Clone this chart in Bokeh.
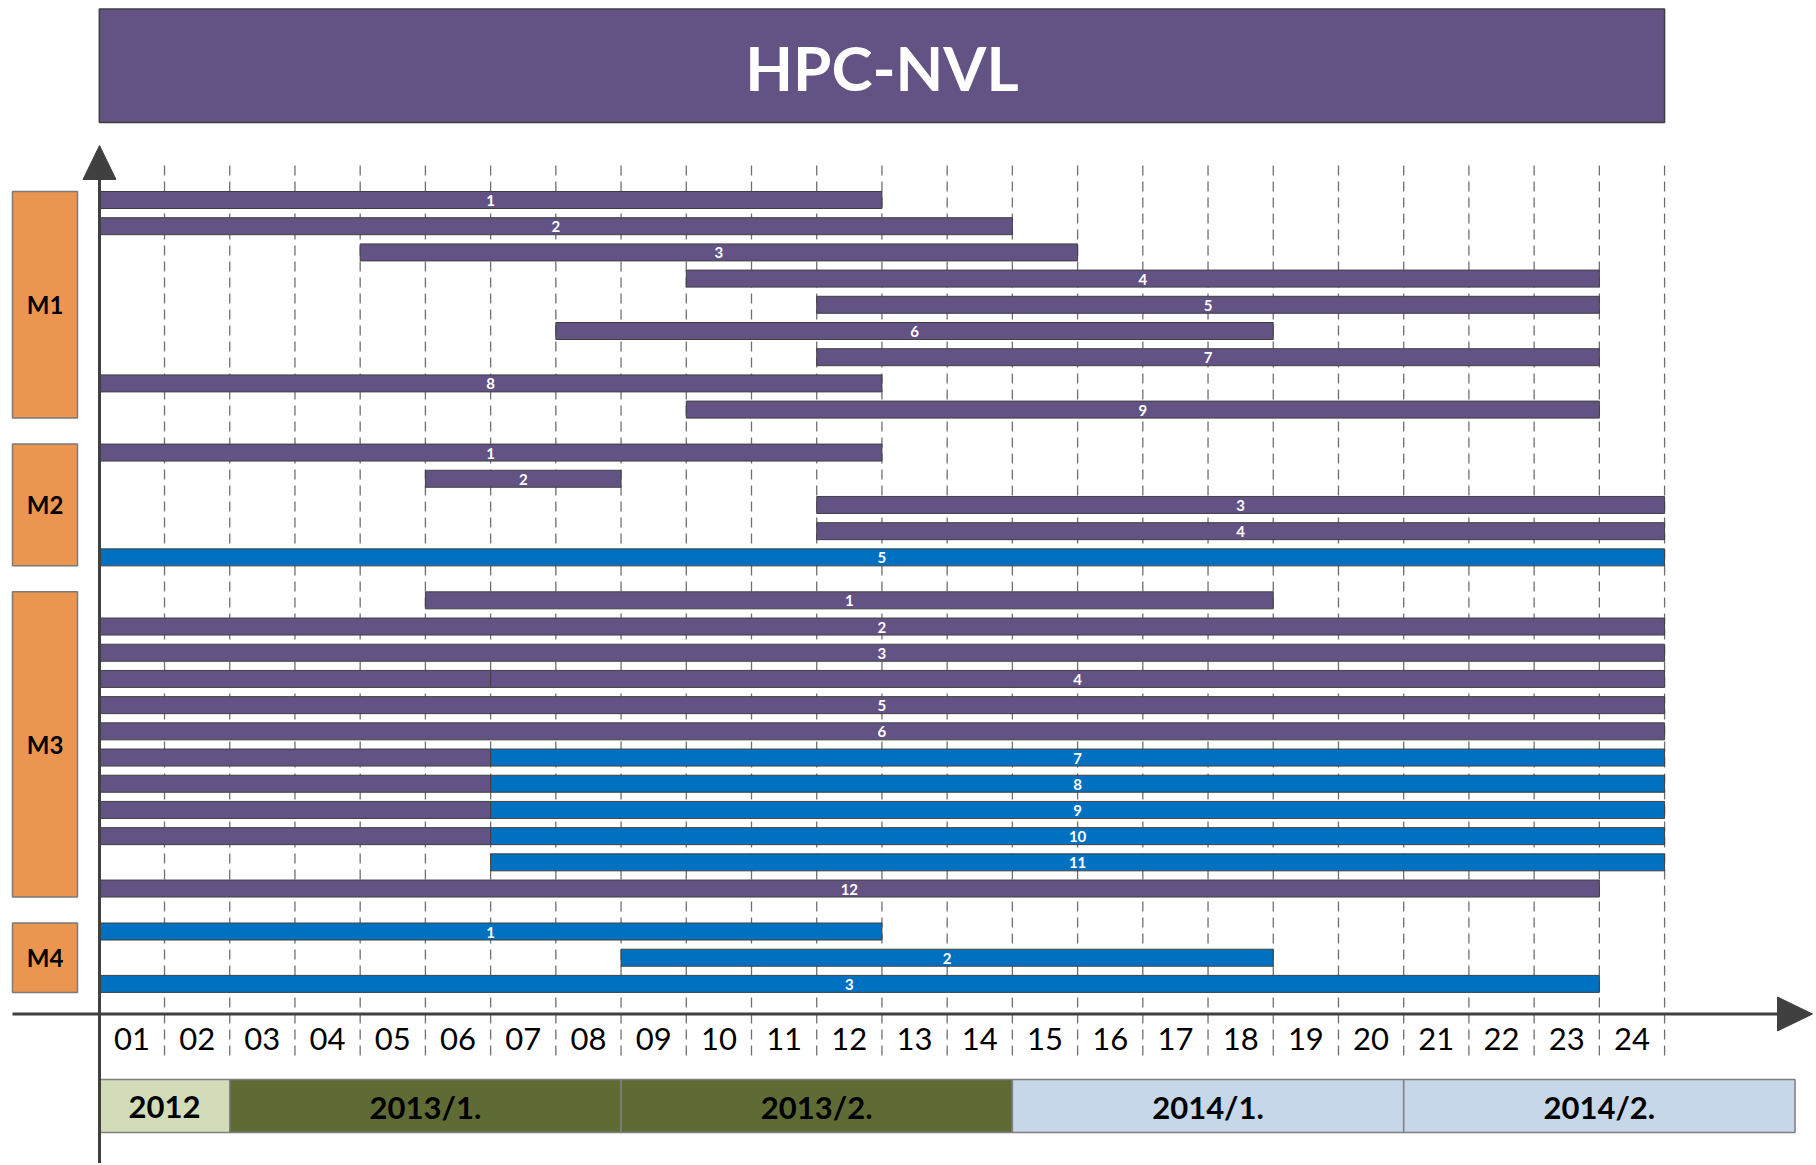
from bokeh.plotting import figure
from bokeh.models import Range1d, ColumnDataSource
from bokeh.core.properties import value
from bokeh.embed import file_html
from bokeh.resources import INLINE

# ---------------- data ----------------
TITLE = "HPC-NVL"
GROUPS = ["M1", "M2", "M3", "M4"]

# start month, month where the colour changes (None = no change), end month,
# kind of the (last) segment: "p" = purple, "b" = blue
M1_START = [0, 0, 4, 9, 11, 7, 11, 0, 9]
M1_SPLIT = [None, None, None, None, None, None, None, None, None]
M1_END = [12, 14, 15, 23, 23, 18, 23, 12, 23]
M1_KIND = ["p", "p", "p", "p", "p", "p", "p", "p", "p"]

M2_START = [0, 5, 11, 11, 0]
M2_SPLIT = [None, None, None, None, None]
M2_END = [12, 8, 24, 24, 24]
M2_KIND = ["p", "p", "p", "p", "b"]

M3_START = [5, 0, 0, 0, 0, 0, 0, 0, 0, 0, 6, 0]
M3_SPLIT = [None, None, None, 6, None, None, 6, 6, 6, 6, None, None]
M3_END = [18, 24, 24, 24, 24, 24, 24, 24, 24, 24, 24, 23]
M3_KIND = ["p", "p", "p", "p", "p", "p", "b", "b", "b", "b", "b", "p"]

M4_START = [0, 8, 0]
M4_SPLIT = [None, None, None]
M4_END = [12, 18, 23]
M4_KIND = ["b", "b", "b"]

MONTH_LABELS = ["01", "02", "03", "04", "05", "06", "07", "08", "09", "10", "11", "12",
                "13", "14", "15", "16", "17", "18", "19", "20", "21", "22", "23", "24"]

PERIOD_LABELS = ["2012", "2013/1.", "2013/2.", "2014/1.", "2014/2."]
PERIOD_START = [0, 2, 8, 14, 20]
PERIOD_END = [2, 8, 14, 20, 26]

# ---------------- styles / layout ----------------
PURPLE = "#635284"
BLUE = "#0070C0"
KIND_COLOR = {"p": PURPLE, "b": BLUE}
PERIOD_COLORS = ["#D3DCB8", "#5E6B35", "#5E6B35", "#C5D7E9", "#C5D7E9"]
ORANGE = "#EA9650"
DARK = "#404040"
FONT = value("Lato")

W, H = 1814, 1163
OFF = 0
X0_PX = 98.8        # pixel of month 0
MONTH_PX = 65.22    # pixel width of one month
ROW0 = 199.5
ROW_STEP = 26.2
GROUP_GAP = 0.64
BAR_H = 17


def mx(px):
    return (px - X0_PX) / MONTH_PX


p = figure(width=W, height=H,
           x_range=Range1d(mx(OFF), mx(OFF + W)),
           y_range=Range1d(start=OFF + H, end=OFF),
           output_backend="svg", toolbar_location=None,
           x_axis_type=None, y_axis_type=None, min_border=0)
p.grid.visible = False
p.outline_line_color = None
p.background_fill_color = "white"
p.border_fill_color = "white"

n_months = len(MONTH_LABELS)

# title box
p.quad(left=[0], right=[n_months], top=[8.5], bottom=[122],
       fill_color=PURPLE, line_color=DARK, line_width=1.5)
p.text(x=[n_months / 2], y=[66], text=[TITLE], text_color="white",
       text_font=FONT, text_font_style="bold", text_font_size="62px",
       text_align="center", text_baseline="middle")

# dashed month grid lines
bounds = list(range(1, n_months + 1))
p.segment(x0=bounds, y0=[165] * len(bounds), x1=bounds, y1=[1057] * len(bounds),
          line_color="#6F6F6F", line_width=1.3, line_dash="10 6")

# bars
seg = dict(left=[], right=[], y=[], color=[])
lab = dict(x=[], y=[], text=[])
grp = dict(left=[], right=[], top=[], bottom=[], cx=[], cy=[], name=[])

groups_data = [(M1_START, M1_SPLIT, M1_END, M1_KIND),
               (M2_START, M2_SPLIT, M2_END, M2_KIND),
               (M3_START, M3_SPLIT, M3_END, M3_KIND),
               (M4_START, M4_SPLIT, M4_END, M4_KIND)]
k = 0
for g, (st, sp, en, kd) in enumerate(groups_data):
    ys = []
    for i in range(len(st)):
        y = ROW0 + (k + g * GROUP_GAP) * ROW_STEP
        ys.append(y)
        if sp[i] is not None:
            parts = [(st[i], sp[i], "p"), (sp[i], en[i], kd[i])]
        else:
            parts = [(st[i], en[i], kd[i])]
        for a, b, c in parts:
            seg["left"].append(a)
            seg["right"].append(b)
            seg["y"].append(y)
            seg["color"].append(KIND_COLOR[c])
        a, b, _ = parts[-1]
        lab["x"].append((a + b) / 2)
        lab["y"].append(y + 0.5)
        lab["text"].append(str(i + 1))
        k += 1
    grp["left"].append(mx(12))
    grp["right"].append(mx(77))
    grp["top"].append(ys[0] - BAR_H / 2)
    grp["bottom"].append(ys[-1] + BAR_H / 2)
    grp["cx"].append(mx(44.5))
    grp["cy"].append((ys[0] + ys[-1]) / 2)
    grp["name"].append(GROUPS[g])

src = ColumnDataSource(dict(left=seg["left"], right=seg["right"],
                            top=[y - BAR_H / 2 for y in seg["y"]],
                            bottom=[y + BAR_H / 2 for y in seg["y"]],
                            color=seg["color"]))
p.quad(left="left", right="right", top="top", bottom="bottom", source=src,
       fill_color="color", line_color=DARK, line_width=1)
p.text(x=lab["x"], y=lab["y"], text=lab["text"], text_color="white",
       text_font=FONT, text_font_style="bold", text_font_size="15px",
       text_align="center", text_baseline="middle")

# group boxes
p.quad(left=grp["left"], right=grp["right"], top=grp["top"], bottom=grp["bottom"],
       fill_color=ORANGE, line_color="#7A7A7A", line_width=1.5)
p.text(x=grp["cx"], y=grp["cy"], text=grp["name"], text_color="black",
       text_font=FONT, text_font_style="bold", text_font_size="24px",
       text_align="center", text_baseline="middle")

# month labels
p.text(x=[i + 0.5 for i in range(n_months)], y=[1038] * n_months, text=MONTH_LABELS,
       text_color="black", text_font=FONT, text_font_size="31px",
       text_align="center", text_baseline="middle")

# period boxes
p.quad(left=PERIOD_START, right=PERIOD_END, top=[1079] * len(PERIOD_START),
       bottom=[1132] * len(PERIOD_START), fill_color=PERIOD_COLORS,
       line_color="#7F7F7F", line_width=1.5)
p.text(x=[(a + b) / 2 for a, b in zip(PERIOD_START, PERIOD_END)],
       y=[1106] * len(PERIOD_START), text=PERIOD_LABELS, text_color="black",
       text_font=FONT, text_font_style="bold", text_font_size="31px",
       text_align="center", text_baseline="middle")

# axes with arrows
p.line(x=[mx(99), mx(99)], y=[172, OFF + H], line_color=DARK, line_width=3)
p.patch(x=[mx(99), mx(82.5), mx(115.5)], y=[145, 179, 179], fill_color=DARK, line_color=DARK)
p.line(x=[mx(12), mx(1785)], y=[1013.5, 1013.5], line_color=DARK, line_width=3)
p.patch(x=[mx(1812), mx(1777), mx(1777)], y=[1013.5, 996.5, 1030.5], fill_color=DARK, line_color=DARK)

open("out.html", "w").write(file_html(p, INLINE))
